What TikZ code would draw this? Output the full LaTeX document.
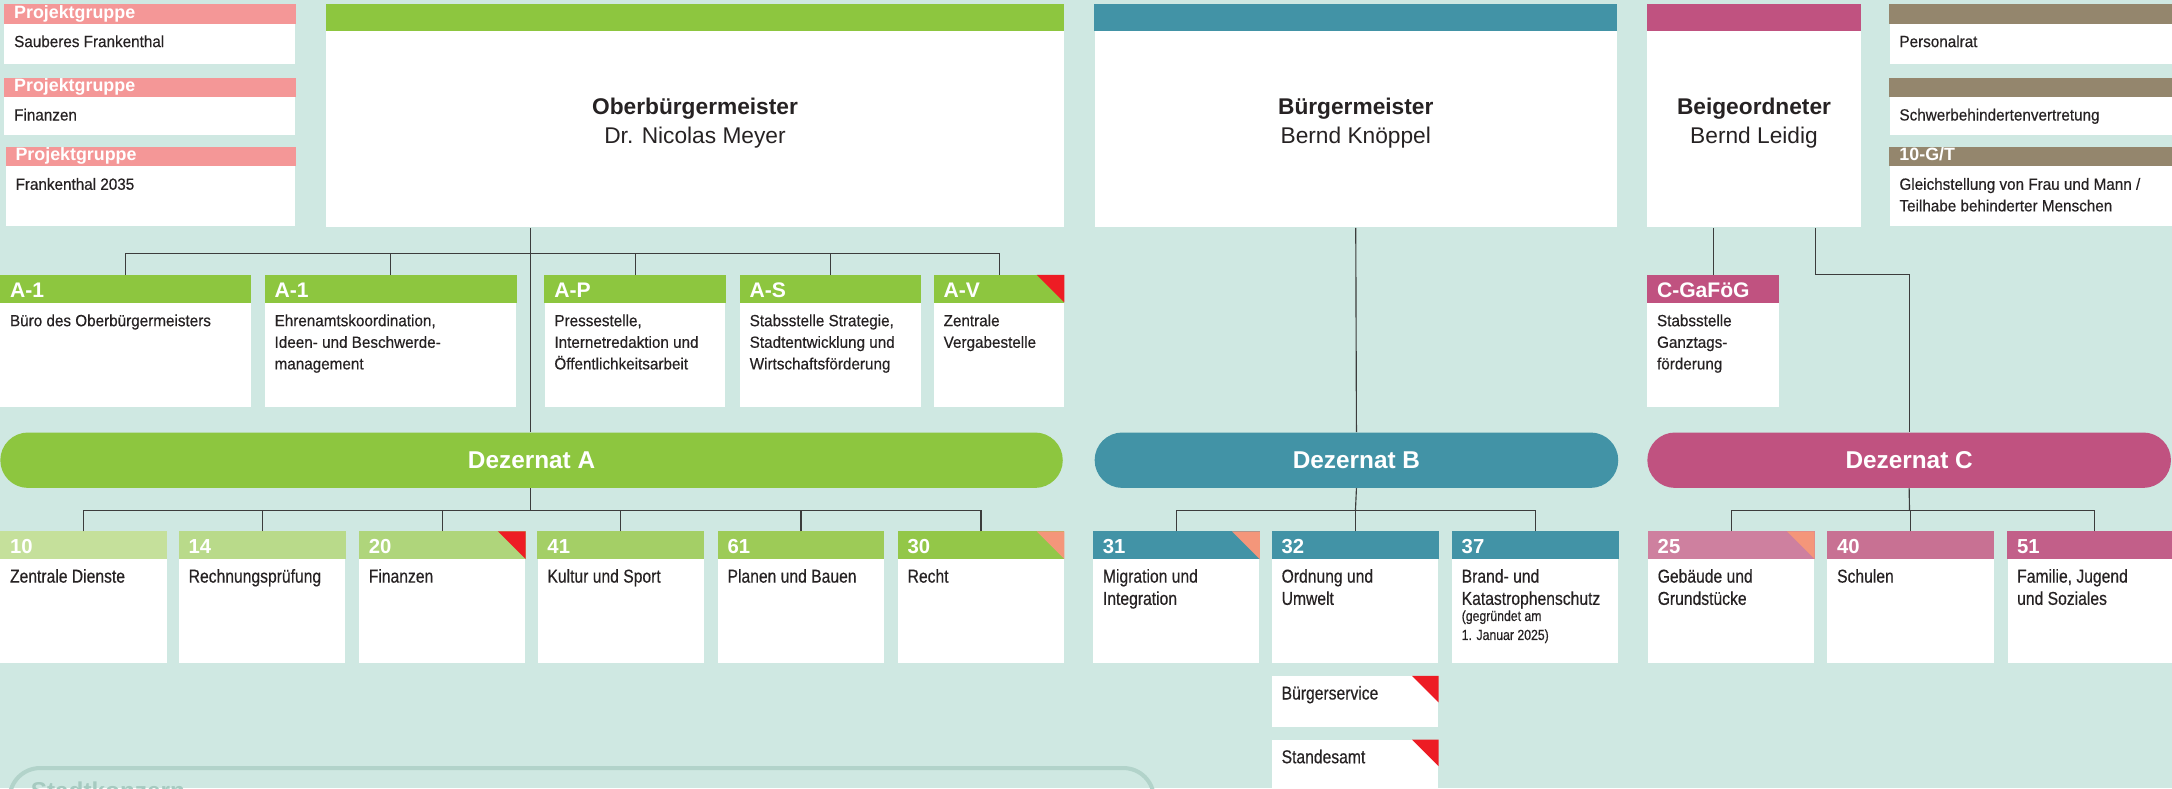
\documentclass[tikz,border=0pt]{standalone}
\usepackage{fontspec}
\setmainfont{Liberation Sans}
\newfontfamily\condfont[FakeStretch=0.94,FakeBold=0.4]{Liberation Sans}
\newfontfamily\narrowfont[FakeStretch=0.84,FakeBold=0.4]{Liberation Sans}

\definecolor{bgmint}{HTML}{CFE8E2}
\definecolor{inkdark}{HTML}{262223}
\definecolor{linegray}{HTML}{3C3C3C}
\definecolor{pgpink}{HTML}{F49797}
\definecolor{obgreen}{HTML}{8DC63F}
\definecolor{bmteal}{HTML}{4293A6}
\definecolor{beimagenta}{HTML}{C05280}
\definecolor{prtaupe}{HTML}{94866D}
\definecolor{flagred}{HTML}{ED1C24}
\definecolor{flagsalmon}{HTML}{F4967A}
\definecolor{aten}{HTML}{C5E09B}
\definecolor{afourteen}{HTML}{B9DA8A}
\definecolor{atwenty}{HTML}{AFD57B}
\definecolor{aforty}{HTML}{A4CF66}
\definecolor{asixty}{HTML}{9DCB57}
\definecolor{athirty}{HTML}{93C748}
\definecolor{ctwentyfive}{HTML}{CE809F}
\definecolor{cforty}{HTML}{C87193}
\definecolor{cfiftyone}{HTML}{C25F89}
\definecolor{konzernline}{HTML}{B2D3CA}
\definecolor{konzerntext}{HTML}{A6CAC0}

\def\px{0.03cm}
\def\headh{20}
% rows of text whose baseline is the first row
\newcommand\textrows[2][l]{\begin{tabular}[t]{@{}#1@{}}#2\end{tabular}}

\tikzset{
  unit box/.style={fill=white, inner sep=0pt, anchor=north west},
  head label/.style={anchor=base west, inner sep=0pt, text=white,
    font=\bfseries\fontsize{13}{15}\selectfont},
  body label/.style={anchor=base west, inner sep=0pt, text=inkdark,
    font=\condfont\fontsize{10}{13.3}\selectfont},
  note label/.style={anchor=base west, inner sep=0pt, text=inkdark,
    font=\narrowfont\fontsize{9}{11.7}\selectfont},
  person label/.style={anchor=base, inner sep=0pt, text=inkdark,
    font=\fontsize{14}{17.9}\selectfont},
  dezernat bar/.style={anchor=north west, inner sep=0pt, minimum height=1.2cm,
    rounded corners=0.6cm, text=white, font=\bfseries\fontsize{15}{18}\selectfont},
  konzern frame/.style={anchor=north west, draw=konzernline, line width=2.5pt,
    rounded corners=0.66cm},
  konzern label/.style={anchor=base west, inner sep=0pt, text=konzerntext,
    font=\bfseries\fontsize{15}{18}\selectfont},
  conn/.style={draw=linegray, line width=0.7pt},
}

% name, x, y, width, height, colour, head, body
\newcommand\orgunit[8]{%
  \node[unit box, minimum width=#4*\px, minimum height=#5*\px] (#1) at (#2,#3) {};
  \fill[#6] (#1.north west) rectangle ([yshift=-\headh*\px]#1.north east);
  \node[head label] at ([xshift=7*\px, yshift=-(\headh-4)*\px]#1.north west) {#7};
  \node[body label] at ([xshift=7*\px, yshift=-(\headh+17)*\px]#1.north west) {\textrows{#8}};
}
% name, x, width, colour, title, person
\newcommand\personunit[6]{%
  \node[unit box, minimum width=#3*\px, minimum height=161*\px] (#1) at (#2,3) {};
  \fill[#4] (#1.north west) rectangle ([yshift=-19.5*\px]#1.north east);
  \node[person label] at ([yshift=-79.5*\px]#1.north) {\textrows[c]{\textbf{#5}\\#6}};
}
% size, node, colour
\newcommand\flag[3][20]{%
  \fill[#3] ([xshift=-#1*\px]#2.north east) -- (#2.north east)
    -- ([yshift=-#1*\px]#2.north east) -- cycle;
}

\begin{document}
\begin{tikzpicture}[x=\px, y=-\px]
  \useasboundingbox (0,0) rectangle (1568,569);
  \clip (0,0) rectangle (1568,569);
  \fill[bgmint] (0,0) rectangle (1568,569);

  % project groups and staff bodies
  \begin{scope}[head label/.append style={font=\bfseries\fontsize{11}{13}\selectfont}]
    \def\headh{14}
    \orgunit{pgclean}{3}{3}{210}{43}{pgpink}{Projektgruppe}{Sauberes Frankenthal}
    \orgunit{pgfin}{3}{56}{210}{41}{pgpink}{Projektgruppe}{Finanzen}
    \orgunit{pgft}{4}{106}{209}{57}{pgpink}{Projektgruppe}{Frankenthal 2035}
    \orgunit{prat}{1364}{3}{210}{43}{prtaupe}{}{Personalrat}
    \orgunit{sbv}{1364}{56}{210}{41}{prtaupe}{}{Schwerbehindertenvertretung}
    \orgunit{gleich}{1364}{106}{210}{57}{prtaupe}{10-G/T}{Gleichstellung von Frau und Mann /\\Teilhabe behinderter Menschen}
  \end{scope}

  % heads
  \personunit{ob}{235}{533}{obgreen}{Oberbürgermeister}{Dr. Nicolas Meyer}
  \personunit{bm}{790}{377}{bmteal}{Bürgermeister}{Bernd Knöppel}
  \personunit{bei}{1189}{154}{beimagenta}{Beigeordneter}{Bernd Leidig}

  % staff units
  \orgunit{abuero}{0}{198.5}{181}{95}{obgreen}{A-1}{Büro des Oberbürgermeisters}
  \orgunit{aehren}{191}{198.5}{181.5}{95}{obgreen}{A-1}{Ehrenamtskoordination,\\Ideen- und Beschwerde-\\management}
  \orgunit{apresse}{393}{198.5}{130.5}{95}{obgreen}{A-P}{Pressestelle,\\Internetredaktion und\\Öffentlichkeitsarbeit}
  \orgunit{astrat}{534}{198.5}{130.5}{95}{obgreen}{A-S}{Stabsstelle Strategie,\\Stadtentwicklung und\\Wirtschaftsförderung}
  \orgunit{avergabe}{674}{198.5}{94}{95}{obgreen}{A-V}{Zentrale\\Vergabestelle}
  \flag{avergabe}{flagred}
  \orgunit{cgafoeg}{1189}{198.5}{95}{95}{beimagenta}{C-GaFöG}{Stabsstelle\\Ganztags-\\förderung}

  % departments
  \node[dezernat bar, fill=obgreen, minimum width=767*\px] (dzA) at (0,312) {Dezernat A};
  \node[dezernat bar, fill=bmteal, minimum width=378*\px] (dzB) at (790,312) {Dezernat B};
  \node[dezernat bar, fill=beimagenta, minimum width=378*\px] (dzC) at (1189,312) {Dezernat C};

  % offices
  \begin{scope}[head label/.append style={font=\bfseries\fontsize{12.5}{15}\selectfont},
      body label/.append style={font=\narrowfont\fontsize{11.5}{13.7}\selectfont}]
    \foreach \nr/\xa/\col/\txt in {10/0/aten/Zentrale Dienste, 14/129/afourteen/Rechnungsprüfung,
        20/259/atwenty/Finanzen, 41/388/aforty/Kultur und Sport,
        61/518/asixty/Planen und Bauen, 30/648/athirty/Recht}
      {\orgunit{u\nr}{\xa}{383.6}{120}{95}{\col}{\nr}{\txt}}
    \orgunit{u31}{789}{383.6}{120}{95}{bmteal}{31}{Migration und\\Integration}
    \orgunit{u32}{918}{383.6}{120}{95}{bmteal}{32}{Ordnung und\\Umwelt}
    \orgunit{u37}{1048}{383.6}{120}{95}{bmteal}{37}{Brand- und\\Katastrophenschutz}
    \node[note label] (u37note) at ([xshift=7*\px, yshift=-64.7*\px]u37.north west) {\textrows{(gegründet am\\1. Januar 2025)}};
    \orgunit{u25}{1189.5}{383.6}{120}{95}{ctwentyfive}{25}{Gebäude und\\Grundstücke}
    \orgunit{u40}{1319}{383.6}{120}{95}{cforty}{40}{Schulen}
    \orgunit{u51}{1449}{383.6}{125}{95}{cfiftyone}{51}{Familie, Jugend\\und Soziales}
    \def\headh{0}
    \orgunit{bserv}{918}{488}{120}{36.6}{white}{}{Bürgerservice}
    \orgunit{stamt}{918}{534}{120}{60}{white}{}{Standesamt}
  \end{scope}
  \flag{u20}{flagred}
  \flag{u30}{flagsalmon}
  \flag{u31}{flagsalmon}
  \flag{u25}{flagsalmon}
  \flag[19]{bserv}{flagred}
  \flag[19]{stamt}{flagred}

  % connectors
  \coordinate (busA) at (383,183);
  \coordinate (lowA) at (383,368.7);
  \coordinate (lowB) at (978.5,368.7);
  \coordinate (lowC) at (1378.5,368.7);
  \coordinate (bendC) at (1310.7,198);
  \draw[conn] (ob.south -| busA) -- (dzA.north -| busA);
  \draw[conn] (dzA.south -| lowA) -- (lowA);
  \foreach \n in {abuero,aehren,apresse,astrat,avergabe}
    \draw[conn] (\n.north) |- (busA);
  \foreach \nr in {10,14,20,41,61,30}
    \draw[conn] (u\nr.north) |- (lowA);
  \draw[conn] (bm.south) -- (dzB.north);
  \draw[conn] (dzB.south) -- (lowB);
  \foreach \nr in {31,32,37}
    \draw[conn] (u\nr.north) |- (lowB);
  \draw[conn] (bei.south -| cgafoeg.north) -- (cgafoeg.north);
  \draw[conn] (bei.south -| bendC) -- (bendC) -| (dzC.north);
  \draw[conn] (dzC.south) -- (lowC);
  \foreach \nr in {25,40,51}
    \draw[conn] (u\nr.north) |- (lowC);

  % Stadtkonzern
  \node[konzern frame, minimum width=826*\px, minimum height=120*\px] (konzern) at (5.5,553) {};
  \node[konzern label] at ([xshift=16.5*\px, yshift=-24*\px]konzern.north west) {Stadtkonzern};
\end{tikzpicture}
\end{document}
